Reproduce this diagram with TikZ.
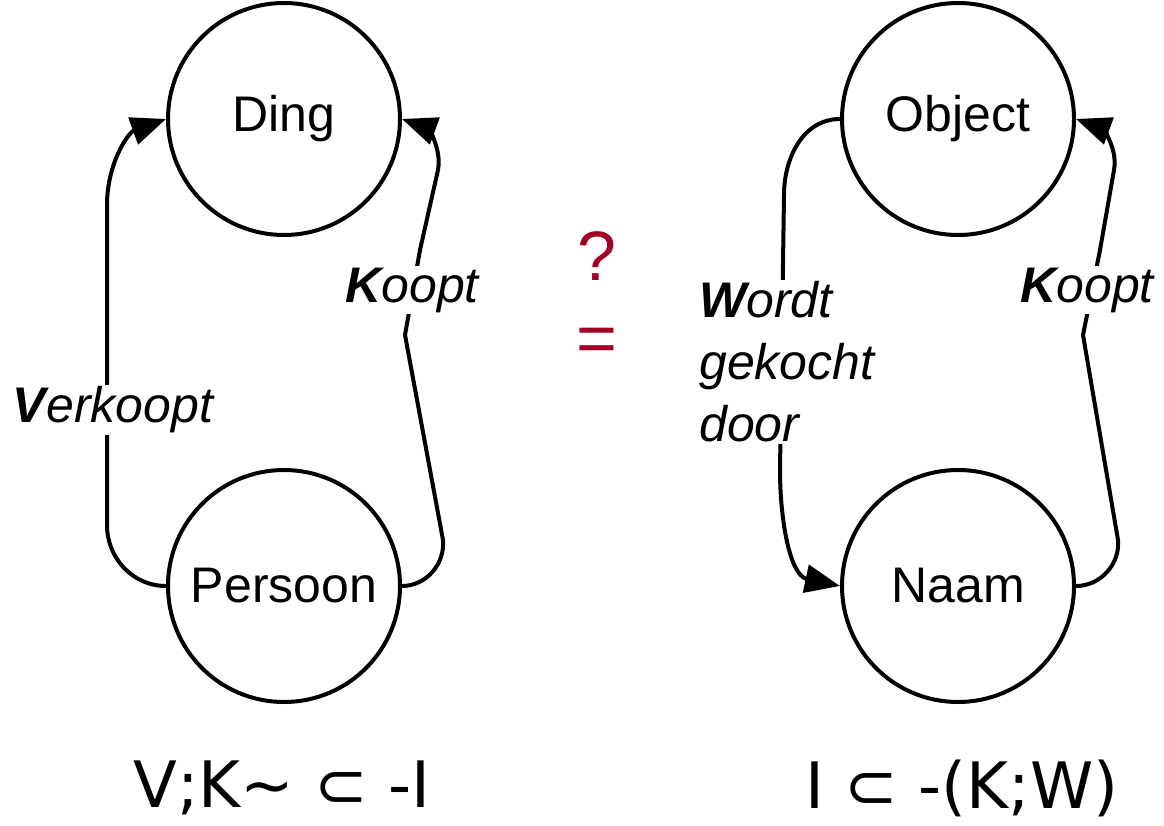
\documentclass[tikz,border=0pt]{standalone}
\usepackage{fontspec}
\setmainfont{Liberation Sans}
\newfontfamily\formulafont{DejaVu Sans}
\usetikzlibrary{arrows.meta}
\definecolor{crimson}{RGB}{162,0,37}
\begin{document}
\begin{tikzpicture}[x=1pt,y=-1pt,
  concept/.style={circle,draw,line width=4pt,minimum size=232pt,inner sep=0pt,
    font=\fontsize{50}{60}\selectfont},
  rel/.style={line width=4pt,-{Triangle[length=35pt,width=28pt]}},
  rellabel/.style={fill=white,inner sep=2pt,font=\fontsize{50}{62}\selectfont\itshape},
  formula/.style={font=\formulafont\fontsize{64}{70}\selectfont},
  cmpsign/.style={text=crimson,font=\fontsize{70}{80}\selectfont}]
\useasboundingbox (0,0) rectangle (1164,826);

% concepts
\node[concept] (ding) at (284,119) {Ding};
\node[concept] (persoon) at (284,586) {Persoon};
\node[concept] (object) at (958,119) {Object};
\node[concept] (naam) at (958,586) {Naam};

% left diagram
\draw[rel] (persoon.west) to[out=180,in=-90] (107,525) -- (107,205)
  to[out=90,in=200] (ding.west);
\node[rellabel] (verkoopt) at (113,410) {\textbf{V}erkoopt};

\draw[rel] (persoon.east) to[out=0,in=-85] (443,540) -- (405,335) -- (420,250)
  -- (438,170) to[out=80,in=-20] (ding.east);
\node[rellabel] (koopt1) at (412,290) {\textbf{K}oopt};

% right diagram
\draw[rel] (object.west) to[out=180,in=90] (784,195) -- (780,470)
  to[out=-90,in=168] (naam.west);
\node[rellabel,align=left,anchor=west] (wordt) at (697,362)
  {\textbf{W}ordt\\gekocht\\door};

\draw[rel] (naam.east) to[out=0,in=-85] (1118,540) -- (1083,335) -- (1100,250)
  -- (1114,170) to[out=80,in=-20] (object.east);
\node[rellabel] (koopt2) at (1087,290) {\textbf{K}oopt};

% comparison signs
\node[cmpsign] (question) at (597,256) {?};
\node[cmpsign] (equals) at (597,345) {=};

% formulas
\node[formula] (f1) at (282,788) {V;K\char"223C{} ⊂ -I};
\node[formula] (f2) at (962,788) {I ⊂ -(K;W)};
\end{tikzpicture}
\end{document}
